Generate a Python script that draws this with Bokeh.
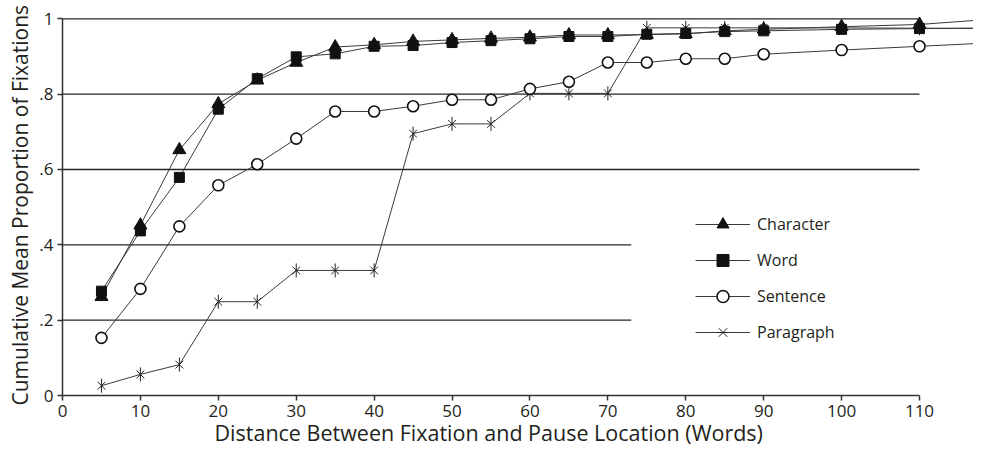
import math
from bokeh.plotting import figure
from bokeh.models import Legend, LegendItem, FixedTicker, Range1d, Title
from bokeh.embed import file_html
from bokeh.resources import INLINE

# ---- data ----
distance = [5, 10, 15, 20, 25, 30, 35, 40, 45, 50, 55, 60, 65, 70, 75, 80, 85, 90, 100, 110, 120]
character = [0.262, 0.452, 0.652, 0.774, 0.837, 0.884, 0.925, 0.931, 0.940, 0.944, 0.948,
             0.951, 0.957, 0.957, 0.958, 0.960, 0.968, 0.972, 0.979, 0.985, 1.000]
word = [0.277, 0.437, 0.579, 0.760, 0.841, 0.899, 0.907, 0.927, 0.929, 0.937, 0.942,
        0.947, 0.953, 0.953, 0.959, 0.961, 0.966, 0.968, 0.972, 0.974, 0.975]
sentence = [0.153, 0.283, 0.449, 0.558, 0.614, 0.682, 0.754, 0.754, 0.768, 0.785, 0.785,
            0.814, 0.833, 0.884, 0.884, 0.894, 0.894, 0.906, 0.917, 0.927, 0.937]
paragraph = [0.026, 0.056, 0.082, 0.249, 0.249, 0.332, 0.332, 0.332, 0.695, 0.721, 0.721,
             0.802, 0.802, 0.802, 0.976, 0.976, 0.976, 0.976, 0.976, 0.975, 0.975]

series_names = ["Character", "Word", "Sentence", "Paragraph"]

x_ticks = [0, 10, 20, 30, 40, 50, 60, 70, 80, 90, 100, 110]
y_ticks = [0, 0.2, 0.4, 0.6, 0.8, 1.0]
y_tick_labels = ["0", ".2", ".4", ".6", ".8", "1"]
grid_levels = [0.2, 0.4, 0.6, 0.8, 1.0]

x_title = "Distance Between Fixation and Pause Location (Words)"
y_title = "Cumulative Mean Proportion of Fixations"

# ---- styling ----
FONT = "Open Sans"
TEXT = "#231f20"
LINE = "#3a3a3a"
MARK = "#111111"

p = figure(width=973, height=447, output_backend="svg", toolbar_location=None,
           x_range=Range1d(0, 116.93), y_range=Range1d(0, 1.0486),
           min_border_left=62, min_border_right=0, min_border_top=0, min_border_bottom=52)
p.outline_line_color = None
p.xgrid.visible = False
p.ygrid.visible = False

# partial horizontal grid lines (short ones stop before the legend)
grid_ends = [73, 73, 110, 110, 110]
p.segment(x0=[0] * len(grid_levels), y0=grid_levels, x1=grid_ends, y1=grid_levels,
          line_color="#262626", line_width=1.3)

# axes
for ax in (p.xaxis, p.yaxis):
    ax.axis_line_color = "#333333"
    ax.axis_line_width = 1.5
    ax.major_tick_line_color = "#333333"
    ax.major_tick_line_width = 1.5
    ax.major_tick_in = 0
    ax.major_tick_out = 5
    ax.minor_tick_line_color = None
    ax.major_label_text_font = FONT
    ax.major_label_text_font_size = "17px"
    ax.major_label_text_color = TEXT

p.xaxis.ticker = FixedTicker(ticks=x_ticks)
p.xaxis.bounds = (0, 110)
p.xaxis.major_label_standoff = 4

p.yaxis.ticker = FixedTicker(ticks=y_ticks)
p.yaxis.bounds = (0, 1)
p.yaxis.major_label_standoff = 4
p.yaxis.major_label_overrides = {t: s for t, s in zip(y_ticks, y_tick_labels)}

# axis titles as side titles (left-aligned so they can be shifted along the axis)
p.add_layout(Title(text=x_title, align="left", offset=152, standoff=-8,
                   text_font=FONT, text_font_size="21.5px", text_font_style="normal",
                   text_color=TEXT), "below")
p.add_layout(Title(text=y_title, align="left", offset=-10, standoff=6,
                   text_font=FONT, text_font_size="21px", text_font_style="normal",
                   text_color=TEXT), "left")

# series
l_par = p.line(distance, paragraph, line_color=LINE, line_width=1)
l_sen = p.line(distance, sentence, line_color=LINE, line_width=1)
l_cha = p.line(distance, character, line_color=LINE, line_width=1)
l_wor = p.line(distance, word, line_color=LINE, line_width=1)

m_par_x = p.scatter(distance, paragraph, marker="x", size=11, line_color="#222222", line_width=1)
m_par_v = p.scatter(distance, paragraph, marker="dash", angle=math.pi / 2, size=14,
                    line_color="#222222", line_width=1)
m_sen = p.scatter(distance, sentence, marker="circle", size=11, fill_color="white",
                  line_color=MARK, line_width=1.6)
m_cha = p.scatter(distance, character, marker="triangle", size=13, fill_color=MARK, line_color=MARK)
m_wor = p.scatter(distance, word, marker="square", size=10, fill_color=MARK, line_color=MARK)

legend = Legend(items=[
    LegendItem(label=series_names[0], renderers=[l_cha, m_cha]),
    LegendItem(label=series_names[1], renderers=[l_wor, m_wor]),
    LegendItem(label=series_names[2], renderers=[l_sen, m_sen]),
    LegendItem(label=series_names[3], renderers=[l_par, m_par_x, m_par_v]),
], location=(633, 48))
legend.glyph_width = 55
legend.glyph_height = 30
legend.spacing = 6
legend.label_standoff = 7
legend.padding = 0
legend.margin = 0
legend.border_line_color = None
legend.background_fill_alpha = 0
legend.label_text_font = FONT
legend.label_text_font_size = "16px"
legend.label_text_color = TEXT
p.add_layout(legend, "center")

open("out.html", "w").write(file_html(p, INLINE))
